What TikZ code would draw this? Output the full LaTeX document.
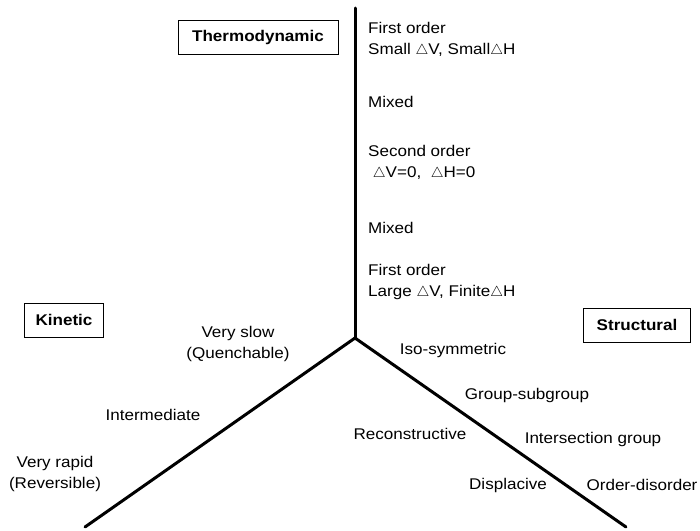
\documentclass[tikz,border=0pt]{standalone}
\usepackage{fontspec}
\setmainfont{Liberation Sans}[FakeStretch=1.1]
\usetikzlibrary{positioning}
\tikzset{
	label/.style={font=\fontsize{15.5}{21}\selectfont, align=center, inner sep=0pt},
	leftlabel/.style={label, align=left, anchor=west},
	typebox/.style={draw, font=\fontsize{15.5}{18}\selectfont\bfseries, minimum height=34pt, inner sep=0pt},
	axis/.style={line width=3pt, line cap=round}
}

\begin{document}
\begin{tikzpicture}[x=1pt, y=-1pt]
		\useasboundingbox (0, 0) rectangle (700, 530);
		%%%%% START %%%%%
		\coordinate (centre) at (355, 338);
		\coordinate (top) at (355, 8);
		\coordinate (leftend) at (85, 527);
		\coordinate (rightend) at (626, 527);
		
		\draw[axis] (top) -- (centre);
		\draw[axis] (centre) -- (leftend);
		\draw[axis] (centre) -- (rightend);
		
		% the three kinds
		\node[typebox, minimum width=160pt] (thermo) at (258, 37) {Thermodynamic};
		\node[typebox, minimum width=79pt] (kinetic) at (64, 320) {Kinetic};
		\node[typebox, minimum width=107pt] (struct) at (637, 325) {Structural};
		
		% thermodynamic
		\node[leftlabel] (first1) at (368, 40) {First order\\Small $\triangle$V, Small$\triangle$H};
		\node[leftlabel] (mixed1) at (368, 102) {Mixed};
		\node[leftlabel] (second) at (368, 163) {Second order\\\ $\triangle$V=0, \ $\triangle$H=0};
		\node[leftlabel] (mixed2) at (368, 228) {Mixed};
		\node[leftlabel] (first2) at (368, 282) {First order\\Large $\triangle$V, Finite$\triangle$H};
		
		% kinetic
		\node[label] (slow) at (238, 344) {Very slow\\(Quenchable)};
		\node[label] (inter) at (153, 415) {Intermediate};
		\node[label] (rapid) at (55, 474) {Very rapid\\(Reversible)};
		
		% structural
		\node[label] (iso) at (453, 350) {Iso-symmetric};
		\node[label] (groupsub) at (527, 395) {Group-subgroup};
		\node[label] (recon) at (410, 434) {Reconstructive};
		\node[label] (intersect) at (593, 439) {Intersection group};
		\node[label] (displ) at (508, 485) {Displacive};
		\node[label] (order) at (642, 485) {Order-disorder};
		%%%%% END %%%%%
\end{tikzpicture}
\end{document}
